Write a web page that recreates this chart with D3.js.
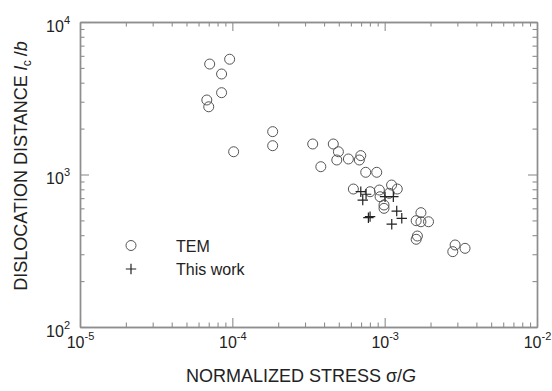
<!DOCTYPE html>
<html>
<head>
<meta charset="utf-8">
<script src="https://cdn.jsdelivr.net/npm/d3@7/dist/d3.min.js"></script>
<style>
  html, body { margin: 0; padding: 0; background: #fff; }
  svg { display: block; font-family: "Liberation Sans", Arial, sans-serif; }
</style>
</head>
<body>
<svg id="chart" width="552" height="391"></svg>
<script>
// TEM measurements: normalized stress and dislocation distance
const temStress = [
  7.1e-5, 9.6e-5, 8.5e-5, 8.5e-5, 6.8e-5, 7.0e-5, 1.84e-4, 1.84e-4, 1.02e-4,
  3.37e-4, 4.6e-4, 4.97e-4, 4.85e-4, 5.78e-4, 6.97e-4, 6.82e-4, 3.81e-4,
  7.51e-4, 8.87e-4, 6.23e-4, 8.02e-4, 9.23e-4, 1.11e-3, 1.21e-3, 9.33e-4,
  1.07e-3, 9.9e-4, 9.9e-4, 1.73e-3, 1.61e-3, 1.73e-3, 1.94e-3, 1.64e-3,
  1.61e-3, 2.90e-3, 3.37e-3, 2.80e-3
];
const temDistance = [
  5300, 5700, 4560, 3440, 3080, 2780, 1910, 1545, 1410,
  1585, 1585, 1410, 1245, 1264, 1330, 1245, 1125,
  1034, 1034, 803, 771, 791, 853, 803, 715,
  753, 631, 600, 562, 498, 490, 490, 395,
  376, 345, 328, 312
];

// Present results
const workStress = [6.97e-4, 7.55e-4, 7.18e-4, 1.006e-3, 1.14e-3, 8.02e-4, 7.82e-4, 1.20e-3, 1.295e-3, 1.113e-3];
const workDistance = [771, 742, 680, 715, 715, 529, 521, 576, 516, 472];

// Axis ranges and labelled decades
const xDomain = [1e-5, 1e-2];
const yDomain = [1e2, 1e4];
const xMajor = [1e-5, 1e-4, 1e-3, 1e-2];
const yMajor = [1e2, 1e3, 1e4];
const xExponents = ["-5", "-4", "-3", "-2"];
const yExponents = ["2", "3", "4"];

const legendLabels = ["TEM", "This work"];

const svg = d3.select("#chart");
const plotLeft = 80, plotRight = 537, plotTop = 22, plotBottom = 327;

const x = d3.scaleLog().domain(xDomain).range([plotLeft, plotRight]);
const y = d3.scaleLog().domain(yDomain).range([plotBottom, plotTop]);

const isDecade = v => Math.abs(Math.log10(v) - Math.round(Math.log10(v))) < 1e-9;
const xMinor = x.ticks().filter(v => !isDecade(v));
const yMinor = y.ticks().filter(v => !isDecade(v));

const axisColor = "#8e8e8e";
const minorLen = 4.5, majorLen = 9;

function styleAxis(g) {
  g.select(".domain").attr("stroke", axisColor).attr("stroke-width", 1.4);
  g.selectAll(".tick line").attr("stroke", axisColor).attr("stroke-width", 1.1);
}

// Ticks on all four sides, pointing into the plot
function addAxis(axisFn, scale, transform, values, len) {
  const g = svg.append("g").attr("transform", transform)
    .call(axisFn(scale).tickValues(values).tickSizeInner(-len).tickSizeOuter(0).tickFormat(() => ""));
  styleAxis(g);
  return g;
}
addAxis(d3.axisBottom, x, `translate(0,${plotBottom})`, xMinor, minorLen);
const xAxisG = addAxis(d3.axisBottom, x, `translate(0,${plotBottom})`, xMajor, majorLen);
addAxis(d3.axisTop, x, `translate(0,${plotTop})`, xMinor, minorLen);
addAxis(d3.axisTop, x, `translate(0,${plotTop})`, xMajor, majorLen);
addAxis(d3.axisLeft, y, `translate(${plotLeft},0)`, yMinor, minorLen);
const yAxisG = addAxis(d3.axisLeft, y, `translate(${plotLeft},0)`, yMajor, majorLen);
addAxis(d3.axisRight, y, `translate(${plotRight},0)`, yMinor, minorLen);
addAxis(d3.axisRight, y, `translate(${plotRight},0)`, yMajor, majorLen);

// Power-of-ten tick labels
const labelColor = "#222";
xAxisG.selectAll(".tick text").remove();
xAxisG.selectAll(".tick").each(function(d, i) {
  const t = d3.select(this).append("text")
    .attr("y", 21).attr("text-anchor", "middle")
    .attr("fill", labelColor).attr("font-size", 16);
  t.append("tspan").text("10");
  t.append("tspan").attr("dy", -8).attr("font-size", 11).text(xExponents[i]);
});
yAxisG.selectAll(".tick text").remove();
yAxisG.selectAll(".tick").each(function(d, i) {
  const t = d3.select(this).append("text")
    .attr("x", -10).attr("y", 9).attr("text-anchor", "end")
    .attr("fill", labelColor).attr("font-size", 16);
  t.append("tspan").text("10");
  t.append("tspan").attr("dy", -8).attr("font-size", 11).text(yExponents[i]);
});

// Markers
const circleR = 5;
const crossArm = 5.2;
const crossPath = (cx, cy, a) => `M${cx - a},${cy}H${cx + a}M${cx},${cy - a}V${cy + a}`;

svg.append("g").selectAll("circle")
  .data(d3.range(temStress.length))
  .join("circle")
  .attr("cx", i => x(temStress[i]))
  .attr("cy", i => y(temDistance[i]))
  .attr("r", circleR)
  .attr("fill", "none")
  .attr("stroke", "#555")
  .attr("stroke-width", 1);

svg.append("g").selectAll("path")
  .data(d3.range(workStress.length))
  .join("path")
  .attr("d", i => crossPath(x(workStress[i]), y(workDistance[i]), crossArm))
  .attr("fill", "none")
  .attr("stroke", "#222")
  .attr("stroke-width", 1.2);

// Legend
const legend = svg.append("g");
legend.append("circle").attr("cx", 131).attr("cy", 245.5).attr("r", circleR)
  .attr("fill", "none").attr("stroke", "#555").attr("stroke-width", 1);
legend.append("path").attr("d", crossPath(131, 269, crossArm))
  .attr("stroke", "#222").attr("stroke-width", 1.2);
legend.selectAll("text").data(legendLabels).join("text")
  .attr("x", 176).attr("y", (d, i) => 251.5 + i * 23.5)
  .attr("font-size", 16).attr("fill", labelColor).text(d => d);

// Axis titles
const xTitle = svg.append("text")
  .attr("x", 301).attr("y", 382).attr("text-anchor", "middle")
  .attr("font-size", 18).attr("fill", labelColor);
xTitle.append("tspan").text("NORMALIZED STRESS σ/");
xTitle.append("tspan").attr("font-style", "italic").text("G");

const yTitle = svg.append("text")
  .attr("transform", "translate(27,166) rotate(-90)")
  .attr("text-anchor", "middle")
  .attr("font-size", 18).attr("fill", labelColor);
yTitle.append("tspan").text("DISLOCATION DISTANCE  ");
yTitle.append("tspan").attr("font-style", "italic").text("l");
yTitle.append("tspan").attr("font-size", 12).attr("dy", 4).text("c");
yTitle.append("tspan").attr("dy", -4).attr("dx", 4).text("/");
yTitle.append("tspan").attr("font-style", "italic").text("b");
</script>
</body>
</html>
